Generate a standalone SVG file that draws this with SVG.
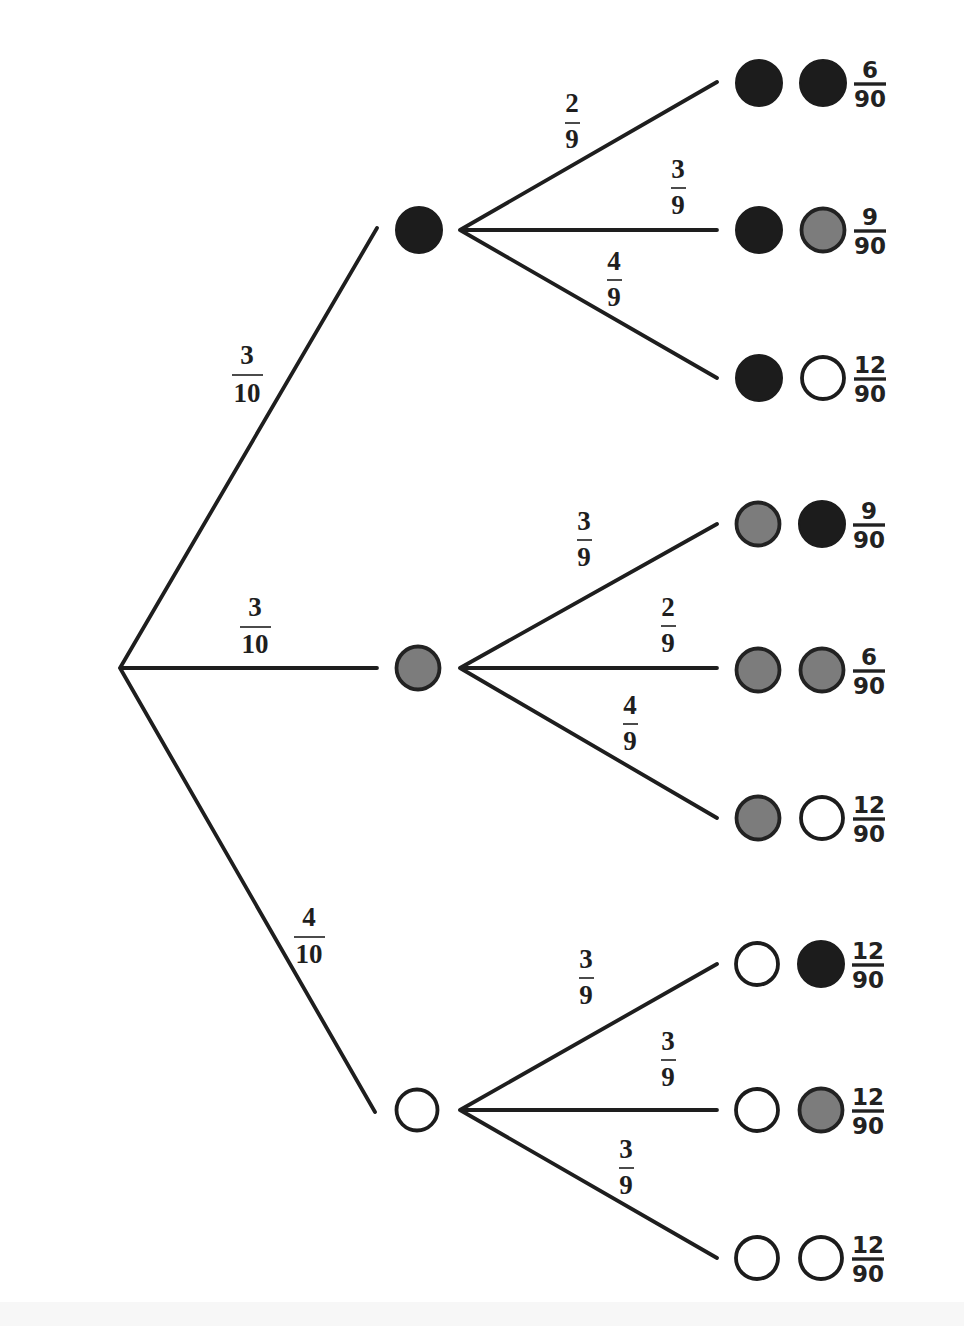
<svg xmlns="http://www.w3.org/2000/svg" width="964" height="1326" viewBox="0 0 964 1326">
<style>
.ln{stroke:#1e1e1e;stroke-width:3.8;stroke-linecap:round;fill:none}
.bar{stroke:#1e1e1e;stroke-width:1.6}
.lbar{stroke:#222;stroke-width:3.4}
.bk{fill:#1c1c1c;stroke:#1c1c1c;stroke-width:2}
.gy{fill:#7c7c7c;stroke:#222;stroke-width:3.8}
.wh{fill:#fff;stroke:#1c1c1c;stroke-width:3.8}
.bl{font-family:"Liberation Serif","DejaVu Serif",serif;font-weight:bold;font-size:27px;fill:#1e1e1e;text-anchor:middle}
.lf{font-family:"DejaVu Sans","Verdana",sans-serif;font-weight:bold;font-size:23px;fill:#222;text-anchor:middle}
</style>
<rect width="964" height="1326" fill="#fff"/>
<rect x="0" y="1302" width="964" height="24" fill="#f7f7f7"/>
<g id="connectors">
<path class="ln" d="M120 668 L377 228 M120 668 L377 668 M120 668 L375 1112"/>
<path class="ln" d="M460 230 L717 82 M460 230 L717 230 M460 230 L717 378"/>
<path class="ln" d="M460 668 L717 524 M460 668 L717 668 M460 668 L717 818"/>
<path class="ln" d="M460 1110 L717 964 M460 1110 L717 1110 M460 1110 L717 1258"/>
</g>
<g id="branch-labels">
<g><text class="bl" x="247" y="364">3</text><line class="bar" x1="232" y1="375" x2="263" y2="375"/><text class="bl" x="247" y="402">10</text></g>
<g><text class="bl" x="255" y="616">3</text><line class="bar" x1="240" y1="627" x2="271" y2="627"/><text class="bl" x="255" y="653">10</text></g>
<g><text class="bl" x="309" y="926">4</text><line class="bar" x1="294" y1="937" x2="325" y2="937"/><text class="bl" x="309" y="963">10</text></g>
<g><text class="bl" x="572" y="112">2</text><line class="bar" x1="565" y1="123" x2="580" y2="123"/><text class="bl" x="572" y="148">9</text></g>
<g><text class="bl" x="678" y="178">3</text><line class="bar" x1="671" y1="188" x2="686" y2="188"/><text class="bl" x="678" y="214">9</text></g>
<g><text class="bl" x="614" y="270">4</text><line class="bar" x1="607" y1="280" x2="622" y2="280"/><text class="bl" x="614" y="306">9</text></g>
<g><text class="bl" x="584" y="530">3</text><line class="bar" x1="577" y1="540" x2="592" y2="540"/><text class="bl" x="584" y="566">9</text></g>
<g><text class="bl" x="668" y="616">2</text><line class="bar" x1="661" y1="626" x2="676" y2="626"/><text class="bl" x="668" y="652">9</text></g>
<g><text class="bl" x="630" y="714">4</text><line class="bar" x1="623" y1="724" x2="638" y2="724"/><text class="bl" x="630" y="750">9</text></g>
<g><text class="bl" x="586" y="968">3</text><line class="bar" x1="579" y1="978" x2="594" y2="978"/><text class="bl" x="586" y="1004">9</text></g>
<g><text class="bl" x="668" y="1050">3</text><line class="bar" x1="661" y1="1060" x2="676" y2="1060"/><text class="bl" x="668" y="1086">9</text></g>
<g><text class="bl" x="626" y="1158">3</text><line class="bar" x1="619" y1="1168" x2="634" y2="1168"/><text class="bl" x="626" y="1194">9</text></g>
</g>
<g id="n-black"><circle class="bk" cx="419" cy="230" r="23"/></g>
<g id="n-grey"><circle class="gy" cx="418" cy="668" r="21.5"/></g>
<g id="n-white"><circle class="wh" cx="417" cy="1110" r="20.5"/></g>
<g id="leaf-1"><circle class="bk" cx="759" cy="83" r="23"/><circle class="bk" cx="823" cy="83" r="23"/><text class="lf" x="870" y="78">6</text><line class="lbar" x1="854" y1="84" x2="886" y2="84"/><text class="lf" x="870" y="107">90</text></g>
<g id="leaf-2"><circle class="bk" cx="759" cy="230" r="23"/><circle class="gy" cx="823" cy="230" r="21.5"/><text class="lf" x="870" y="225">9</text><line class="lbar" x1="854" y1="231" x2="886" y2="231"/><text class="lf" x="870" y="254">90</text></g>
<g id="leaf-3"><circle class="bk" cx="759" cy="378" r="23"/><circle class="wh" cx="823" cy="378" r="21"/><text class="lf" x="870" y="373">12</text><line class="lbar" x1="854" y1="379" x2="886" y2="379"/><text class="lf" x="870" y="402">90</text></g>
<g id="leaf-4"><circle class="gy" cx="758" cy="524" r="21.5"/><circle class="bk" cx="822" cy="524" r="23"/><text class="lf" x="869" y="519">9</text><line class="lbar" x1="853" y1="525" x2="885" y2="525"/><text class="lf" x="869" y="548">90</text></g>
<g id="leaf-5"><circle class="gy" cx="758" cy="670" r="21.5"/><circle class="gy" cx="822" cy="670" r="21.5"/><text class="lf" x="869" y="665">6</text><line class="lbar" x1="853" y1="671" x2="885" y2="671"/><text class="lf" x="869" y="694">90</text></g>
<g id="leaf-6"><circle class="gy" cx="758" cy="818" r="21.5"/><circle class="wh" cx="822" cy="818" r="21"/><text class="lf" x="869" y="813">12</text><line class="lbar" x1="853" y1="819" x2="885" y2="819"/><text class="lf" x="869" y="842">90</text></g>
<g id="leaf-7"><circle class="wh" cx="757" cy="964" r="21"/><circle class="bk" cx="821" cy="964" r="23"/><text class="lf" x="868" y="959">12</text><line class="lbar" x1="852" y1="965" x2="884" y2="965"/><text class="lf" x="868" y="988">90</text></g>
<g id="leaf-8"><circle class="wh" cx="757" cy="1110" r="21"/><circle class="gy" cx="821" cy="1110" r="21.5"/><text class="lf" x="868" y="1105">12</text><line class="lbar" x1="852" y1="1111" x2="884" y2="1111"/><text class="lf" x="868" y="1134">90</text></g>
<g id="leaf-9"><circle class="wh" cx="757" cy="1258" r="21"/><circle class="wh" cx="821" cy="1258" r="21"/><text class="lf" x="868" y="1253">12</text><line class="lbar" x1="852" y1="1259" x2="884" y2="1259"/><text class="lf" x="868" y="1282">90</text></g>
</svg>
